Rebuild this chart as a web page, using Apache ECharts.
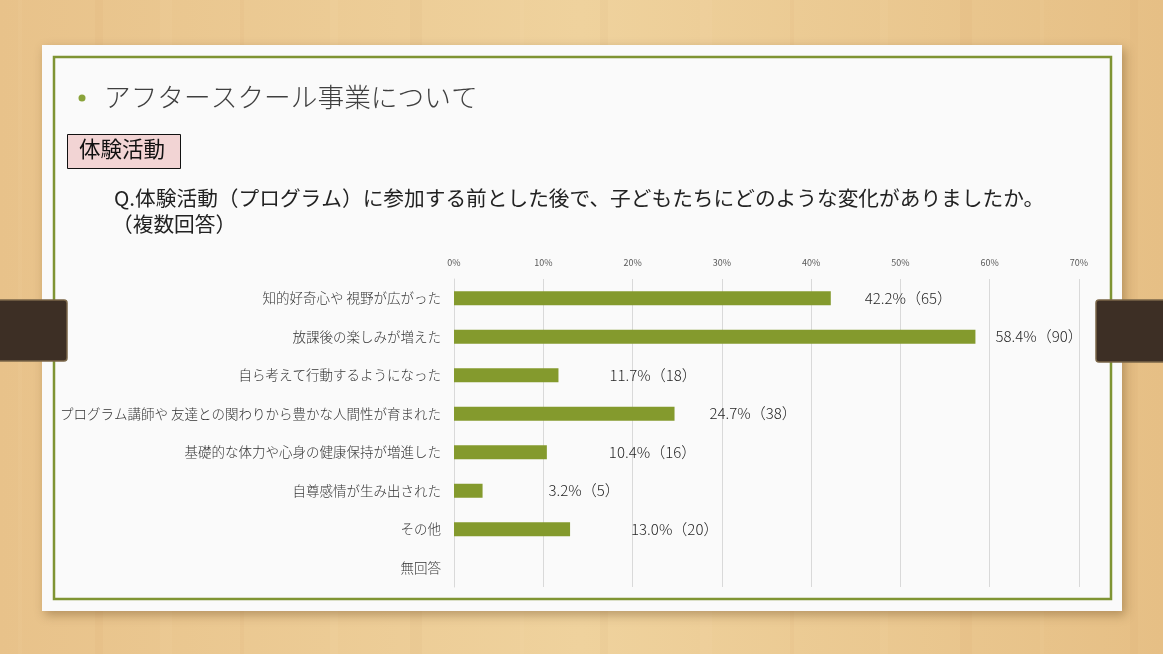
<!DOCTYPE html>
<html>
<head>
<meta charset="utf-8">
<script src="https://cdn.jsdelivr.net/npm/echarts@6/dist/echarts.min.js"></script>
<style>
  html, body { margin: 0; padding: 0; }
  #main { width: 1163px; height: 654px; }
</style>
</head>
<body>
<div id="main"></div>
<script>
// 項目（上から順）
var categories = [
  '知的好奇心や 視野が広がった',
  '放課後の楽しみが増えた',
  '自ら考えて行動するようになった',
  'プログラム講師や 友達との関わりから豊かな人間性が育まれた',
  '基礎的な体力や心身の健康保持が増進した',
  '自尊感情が生み出された',
  'その他',
  '無回答'
];
// 割合(%)
var percents = [42.2, 58.4, 11.7, 24.7, 10.4, 3.2, 13.0, null];
// 回答数
var counts = [65, 90, 18, 38, 16, 5, 20, null];
// 軸目盛
var tickValues = [0, 10, 20, 30, 40, 50, 60, 70];

// ラベルの棒からの距離（スライド上で手動で動かされている分）
var labelGaps = [34, 20, 51, 35, 62, 66, 61, 0];

var FONT = '"Noto Sans CJK JP", "Noto Sans", sans-serif';
var GREEN = '#849a2d';

var chart = echarts.init(document.getElementById('main'), null, { renderer: 'canvas' });

var barData = percents.map(function (v, i) {
  return {
    value: v,
    label: { distance: labelGaps[i] }
  };
});

// 木目っぽい筋
var grain = [];
var grainX = [18, 95, 160, 240, 330, 410, 520, 600, 700, 790, 880, 960, 1040, 1130];
grainX.forEach(function (x, i) {
  grain.push({
    type: 'rect', z: -20, silent: true,
    shape: { x: x, y: 0, width: 4 + (i % 3) * 4, height: 654 },
    style: { fill: i % 2 ? 'rgba(190,140,70,0.05)' : 'rgba(255,240,210,0.06)' }
  });
});

var option = {
  animation: false,
  backgroundColor: {
    type: 'linear', x: 0, y: 0, x2: 1, y2: 0,
    colorStops: [
      { offset: 0, color: '#e8c28a' },
      { offset: 0.5, color: '#efd29d' },
      { offset: 1, color: '#e6bf85' }
    ]
  },
  graphic: grain.concat([
    // 白いカード
    {
      type: 'rect', z: -10,
      shape: { x: 42, y: 45, width: 1080, height: 566 },
      style: { fill: '#fafafa', shadowBlur: 10, shadowOffsetX: 3, shadowOffsetY: 4, shadowColor: 'rgba(80,50,10,0.35)' }
    },
    // 緑の枠
    {
      type: 'rect', z: -9,
      shape: { x: 54, y: 57, width: 1057, height: 542 },
      style: { fill: 'none', stroke: '#7f9433', lineWidth: 2.5 }
    },
    // 左右の留め具
    {
      type: 'rect', z: 50,
      shape: { x: -4, y: 300, width: 71, height: 61, r: [0, 3, 3, 0] },
      style: { fill: '#3d2f25', stroke: '#7a6648', lineWidth: 1.5 }
    },
    {
      type: 'rect', z: 50,
      shape: { x: 1096, y: 300, width: 71, height: 62, r: [3, 0, 0, 3] },
      style: { fill: '#3d2f25', stroke: '#7a6648', lineWidth: 1.5 }
    },
    // タイトル
    {
      type: 'circle',
      shape: { cx: 82, cy: 98, r: 3.5 },
      style: { fill: '#8aa33a' }
    },
    {
      type: 'text', left: 104, top: 84,
      style: { text: 'アフタースクール事業について', fill: '#3f3f3f', font: '300 26.7px ' + FONT }
    },
    // 見出しボックス
    {
      type: 'rect',
      shape: { x: 67.5, y: 134.5, width: 113, height: 34 },
      style: { fill: '#f2d4d4', stroke: '#111', lineWidth: 1 }
    },
    {
      type: 'text', left: 79, top: 138,
      style: { text: '体験活動', fill: '#111', font: '21.5px ' + FONT }
    },
    // 質問文
    {
      type: 'text', left: 114, top: 188,
      style: { text: 'Q.体験活動（プログラム）に参加する前とした後で、子どもたちにどのような変化がありましたか。', fill: '#222', font: '20.7px ' + FONT }
    },
    {
      type: 'text', left: 112, top: 214,
      style: { text: '（複数回答）', fill: '#222', font: '20.7px ' + FONT }
    }
  ]),
  grid: { left: 454, right: 84, top: 279, bottom: 67, containLabel: false },
  xAxis: {
    type: 'value',
    position: 'top',
    min: tickValues[0],
    max: tickValues[tickValues.length - 1],
    interval: 10,
    axisLine: { show: false },
    axisTick: { show: false },
    axisLabel: { formatter: '{value}%', fontSize: 9, color: '#595959', fontFamily: FONT, margin: 12 },
    splitLine: { lineStyle: { color: '#d9d9d9', width: 1 } }
  },
  yAxis: {
    type: 'category',
    inverse: true,
    data: categories,
    axisLine: { show: true, lineStyle: { color: '#d9d9d9' } },
    axisTick: { show: false },
    axisLabel: { fontSize: 13.5, color: '#333', fontFamily: FONT, fontWeight: 300, margin: 13 }
  },
  series: [{
    type: 'bar',
    data: barData,
    barWidth: 14,
    itemStyle: { color: GREEN },
    label: {
      show: true,
      position: 'right',
      fontSize: 15,
      color: '#262626',
      fontFamily: FONT,
      fontWeight: 300,
      formatter: function (p) {
        if (p.value == null) return '';
        return p.value.toFixed(1) + '%（' + counts[p.dataIndex] + '）';
      }
    }
  }]
};

chart.setOption(option);
</script>
</body>
</html>
